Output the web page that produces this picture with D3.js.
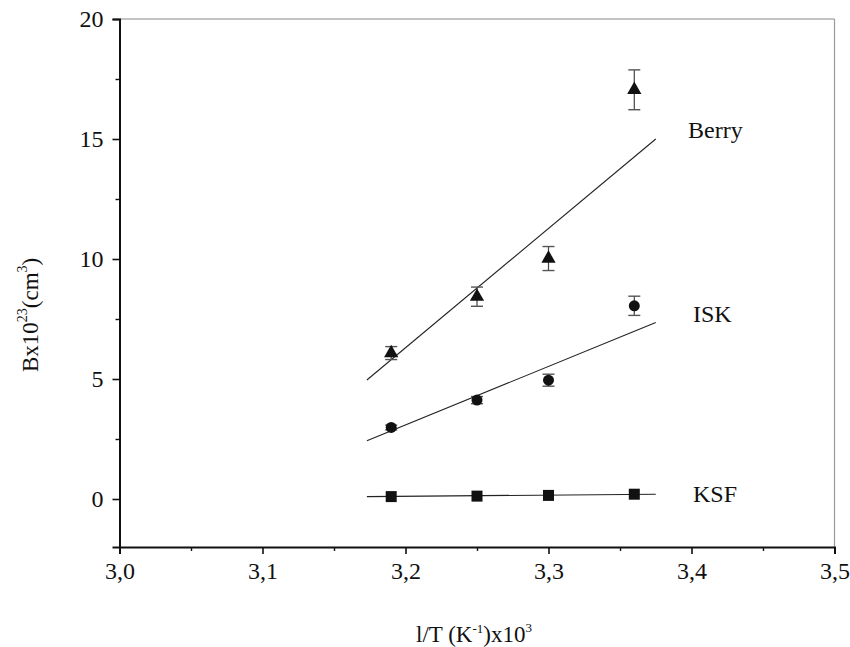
<!DOCTYPE html>
<html>
<head>
<meta charset="utf-8">
<script src="https://cdnjs.cloudflare.com/ajax/libs/d3/7.8.5/d3.min.js"></script>
<style>
  body { margin: 0; background: #fff; }
  text { font-family: "Liberation Serif", "Times New Roman", serif; fill: #111; }
</style>
</head>
<body>
<div id="chartContainer"></div>
<script>
// data
var xVals = [3.19, 3.25, 3.30, 3.36];
var berry = [6.08, 8.43, 10.02, 17.05];
var berryErr = [0.27, 0.4, 0.5, 0.83];
var isk = [2.98, 4.12, 4.95, 8.05];
var iskErr = [0.1, 0.15, 0.25, 0.4];
var ksf = [0.1, 0.12, 0.15, 0.2];
var ksfErr = [0, 0, 0, 0];

// fitted lines (start/end)
var fitX = [3.173, 3.375];
var berryFit = [4.96, 15.0];
var iskFit = [2.43, 7.35];
var ksfFit = [0.1, 0.2];

var xMajor = [3.0, 3.1, 3.2, 3.3, 3.4, 3.5];
var yMajor = [0, 5, 10, 15, 20];

var width = 850, height = 647;
var svg = d3.select("#chartContainer").append("svg")
  .attr("width", width).attr("height", height);

//scales
var x = d3.scaleLinear().domain([3.0, 3.5]).range([119.5, 834.5]);
var y = d3.scaleLinear().domain([-2, 20]).range([547, 19]);

//frame: top and right are light, left and bottom dark
svg.append("line").attr("x1", x(3.0)).attr("x2", x(3.5)).attr("y1", y(20)).attr("y2", y(20))
  .attr("stroke", "#888").attr("stroke-width", 1.2);
svg.append("line").attr("x1", x(3.5)).attr("x2", x(3.5)).attr("y1", y(20)).attr("y2", y(-2))
  .attr("stroke", "#999").attr("stroke-width", 1.2);

//x axis
var xAxis = d3.axisBottom(x).tickValues(xMajor).tickSize(7).tickPadding(8)
  .tickFormat(function (d) { return d3.format(".1f")(d).replace(".", ","); });
var gx = svg.append("g").attr("transform", "translate(0," + y(-2) + ")").call(xAxis);
gx.attr("font-family", null).attr("font-size", null);
gx.select(".domain").attr("stroke", "#111").attr("stroke-width", 2);
gx.selectAll(".tick line").attr("stroke", "#111").attr("stroke-width", 1.6);
gx.selectAll(".tick text").style("font-size", "24px").attr("fill", "#111");
var gxm = svg.append("g").attr("transform", "translate(0," + y(-2) + ")")
  .call(d3.axisBottom(x).tickValues([3.05, 3.15, 3.25, 3.35, 3.45]).tickSize(4).tickFormat(""));
gxm.select(".domain").remove();
gxm.selectAll(".tick line").attr("stroke", "#111").attr("stroke-width", 1.4);

//y axis
var yAxis = d3.axisLeft(y).tickValues(yMajor).tickSize(7).tickPadding(9);
var gy = svg.append("g").attr("transform", "translate(" + x(3.0) + ",0)").call(yAxis);
gy.attr("font-family", null).attr("font-size", null);
gy.select(".domain").attr("stroke", "#111").attr("stroke-width", 2);
gy.selectAll(".tick line").attr("stroke", "#111").attr("stroke-width", 1.6);
gy.selectAll(".tick text").style("font-size", "24px").attr("fill", "#111");
var gym = svg.append("g").attr("transform", "translate(" + x(3.0) + ",0)")
  .call(d3.axisLeft(y).tickValues([2.5, 7.5, 12.5, 17.5]).tickSize(4).tickFormat(""));
gym.select(".domain").remove();
gym.selectAll(".tick line").attr("stroke", "#111").attr("stroke-width", 1.4);

//axis titles
var xt = svg.append("text").attr("x", 416).attr("y", 642).style("font-size", "23px");
xt.append("tspan").text("l/T (K");
xt.append("tspan").attr("dy", -9).style("font-size", "13px").text("-1");
xt.append("tspan").attr("dy", 9).text(")x10");
xt.append("tspan").attr("dy", -10).style("font-size", "13px").text("3");

var yt = svg.append("text").attr("transform", "translate(38,372) rotate(-90)").style("font-size", "23px");
yt.append("tspan").text("Bx10");
yt.append("tspan").attr("dy", -11).style("font-size", "14px").text("23");
yt.append("tspan").attr("dy", 11).text("(cm");
yt.append("tspan").attr("dy", -11).style("font-size", "14px").text("3");
yt.append("tspan").attr("dy", 11).text(")");

//series
var series = [
  { name: "Berry", vals: berry, err: berryErr, fit: berryFit, sym: d3.symbolTriangle, size: 88, lx: 688, ly: 138 },
  { name: "ISK", vals: isk, err: iskErr, fit: iskFit, sym: d3.symbolCircle, size: 95, lx: 693, ly: 322 },
  { name: "KSF", vals: ksf, err: ksfErr, fit: ksfFit, sym: d3.symbolSquare, size: 121, lx: 693, ly: 502 }
];

series.forEach(function (s) {
  var g = svg.append("g");

  //fit line
  g.append("line")
    .attr("x1", x(fitX[0])).attr("y1", y(s.fit[0]))
    .attr("x2", x(fitX[1])).attr("y2", y(s.fit[1]))
    .attr("stroke", "#222").attr("stroke-width", 1.1);

  var pts = xVals.map(function (d, i) { return { x: d, v: s.vals[i], e: s.err[i] }; });

  //error bars
  pts.filter(function (p) { return p.e > 0; }).forEach(function (p) {
    var cx = x(p.x);
    g.append("line").attr("x1", cx).attr("x2", cx).attr("y1", y(p.v + p.e)).attr("y2", y(p.v - p.e))
      .attr("stroke", "#444").attr("stroke-width", 1.2);
    [p.v + p.e, p.v - p.e].forEach(function (yy) {
      g.append("line").attr("x1", cx - 6).attr("x2", cx + 6).attr("y1", y(yy)).attr("y2", y(yy))
        .attr("stroke", "#555").attr("stroke-width", 1.4);
    });
  });

  //markers
  g.selectAll("path.mk").data(pts).enter().append("path")
    .attr("class", "mk")
    .attr("d", d3.symbol().type(s.sym).size(s.size))
    .attr("transform", function (p) { return "translate(" + x(p.x) + "," + y(p.v) + ")"; })
    .attr("fill", "#111");

  //label
  svg.append("text").attr("x", s.lx).attr("y", s.ly).style("font-size", "24px").text(s.name);
});
</script>
</body>
</html>
